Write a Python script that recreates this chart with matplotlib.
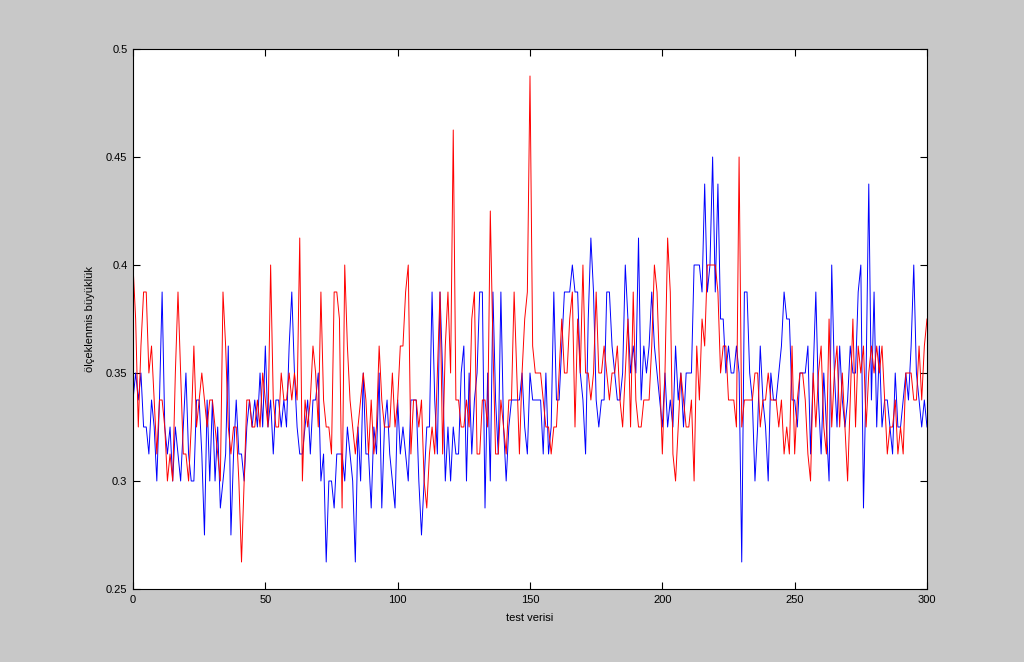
import numpy as np
import matplotlib.pyplot as plt
from matplotlib.ticker import FuncFormatter

plt.rcParams['font.family'] = ['Liberation Sans', 'DejaVu Sans']

# kirmizi seri (test verisi 0..300)
red = [0.4, 0.375, 0.325, 0.3625, 0.3875, 0.3875, 0.35, 0.3625, 0.3375, 0.3125,
       0.3375, 0.3375, 0.325, 0.3, 0.3125, 0.3, 0.35, 0.3875, 0.35, 0.3125,
       0.3125, 0.3, 0.325, 0.3625, 0.325, 0.3375, 0.35, 0.3375, 0.325, 0.3375,
       0.3375, 0.325, 0.3125, 0.3, 0.3875, 0.3625, 0.325, 0.3125, 0.325, 0.325,
       0.3, 0.2625, 0.3, 0.3375, 0.3375, 0.325, 0.325, 0.3375, 0.325, 0.35,
       0.3375, 0.325, 0.4, 0.3375, 0.325, 0.325, 0.35, 0.3375, 0.3375, 0.35,
       0.3375, 0.35, 0.3375, 0.4125, 0.3, 0.3375, 0.325, 0.3375, 0.3625, 0.35,
       0.325, 0.3875, 0.3375, 0.325, 0.325, 0.3125, 0.3875, 0.3875, 0.375, 0.2875,
       0.4, 0.3625, 0.3375, 0.325, 0.3125, 0.325, 0.3375, 0.35, 0.3375, 0.3125,
       0.3375, 0.3125, 0.325, 0.3625, 0.3375, 0.325, 0.325, 0.325, 0.35, 0.325,
       0.3375, 0.3625, 0.3625, 0.3875, 0.4, 0.3125, 0.3375, 0.3375, 0.325, 0.3375,
       0.3, 0.2875, 0.3125, 0.325, 0.3125, 0.35, 0.3875, 0.3125, 0.3625, 0.3875,
       0.35, 0.4625, 0.3375, 0.3375, 0.325, 0.325, 0.3375, 0.325, 0.375, 0.3875,
       0.3125, 0.3125, 0.3375, 0.3375, 0.325, 0.425, 0.3625, 0.3125, 0.3125, 0.3375,
       0.325, 0.3125, 0.3375, 0.3375, 0.3875, 0.35, 0.3125, 0.35, 0.375, 0.3875,
       0.4875, 0.3625, 0.35, 0.35, 0.35, 0.3375, 0.325, 0.325, 0.3125, 0.325,
       0.325, 0.35, 0.375, 0.35, 0.35, 0.375, 0.3875, 0.325, 0.375, 0.35,
       0.4, 0.35, 0.35, 0.3375, 0.35, 0.3875, 0.35, 0.35, 0.3625, 0.35,
       0.3375, 0.35, 0.35, 0.3625, 0.3375, 0.325, 0.35, 0.375, 0.325, 0.3875,
       0.3375, 0.325, 0.325, 0.3375, 0.3375, 0.3375, 0.3625, 0.4, 0.3875, 0.35,
       0.3125, 0.35, 0.4125, 0.3875, 0.3125, 0.3, 0.325, 0.35, 0.3375, 0.325,
       0.325, 0.3375, 0.3, 0.3625, 0.3375, 0.375, 0.3625, 0.4, 0.4, 0.4,
       0.4, 0.3875, 0.35, 0.3625, 0.3625, 0.3375, 0.3375, 0.3375, 0.325, 0.45,
       0.325, 0.3375, 0.3375, 0.3375, 0.3375, 0.35, 0.35, 0.325, 0.3375, 0.3375,
       0.35, 0.3375, 0.3375, 0.3375, 0.325, 0.3375, 0.3125, 0.325, 0.3125, 0.3625,
       0.3125, 0.3375, 0.35, 0.35, 0.3375, 0.3125, 0.3, 0.35, 0.325, 0.35,
       0.3625, 0.325, 0.3125, 0.375, 0.325, 0.35, 0.3625, 0.325, 0.35, 0.325,
       0.3, 0.3375, 0.375, 0.325, 0.3625, 0.35, 0.3625, 0.325, 0.35, 0.3625,
       0.35, 0.3625, 0.35, 0.3625, 0.3375, 0.3125, 0.325, 0.325, 0.3375, 0.3125,
       0.325, 0.3125, 0.35, 0.35, 0.35, 0.3375, 0.3375, 0.3625, 0.3375, 0.3625,
       0.375]

# mavi seri
blue = [0.3375, 0.35, 0.3375, 0.35, 0.325, 0.325, 0.3125, 0.3375, 0.325, 0.3,
        0.3375, 0.3875, 0.325, 0.3125, 0.325, 0.3, 0.325, 0.3125, 0.3, 0.325,
        0.35, 0.3125, 0.3, 0.3, 0.3375, 0.3375, 0.3125, 0.275, 0.3375, 0.3,
        0.3375, 0.3, 0.325, 0.2875, 0.3, 0.3125, 0.3625, 0.275, 0.3125, 0.3375,
        0.3125, 0.3125, 0.3, 0.325, 0.3375, 0.325, 0.3375, 0.325, 0.35, 0.325,
        0.3625, 0.325, 0.3375, 0.3125, 0.3375, 0.3375, 0.325, 0.3375, 0.325, 0.3625,
        0.3875, 0.35, 0.325, 0.3125, 0.3125, 0.325, 0.3375, 0.3125, 0.3375, 0.3375,
        0.35, 0.3, 0.3125, 0.2625, 0.3, 0.3, 0.2875, 0.3125, 0.3125, 0.3125,
        0.3, 0.325, 0.3125, 0.3, 0.2625, 0.325, 0.3, 0.35, 0.3125, 0.3125,
        0.2875, 0.325, 0.3125, 0.35, 0.2875, 0.325, 0.3375, 0.3125, 0.3, 0.2875,
        0.3375, 0.3125, 0.325, 0.3125, 0.3, 0.3375, 0.3375, 0.3375, 0.3, 0.275,
        0.3, 0.325, 0.325, 0.3875, 0.3375, 0.3125, 0.3875, 0.35, 0.3, 0.325,
        0.3, 0.325, 0.3125, 0.3125, 0.35, 0.3625, 0.3, 0.35, 0.3125, 0.3375,
        0.35, 0.3875, 0.3875, 0.2875, 0.35, 0.3, 0.3875, 0.3375, 0.3125, 0.3875,
        0.325, 0.3, 0.325, 0.3375, 0.3375, 0.3375, 0.3375, 0.35, 0.325, 0.3125,
        0.35, 0.3375, 0.3375, 0.3375, 0.3375, 0.3125, 0.35, 0.3125, 0.325, 0.3875,
        0.3375, 0.3375, 0.3625, 0.3875, 0.3875, 0.3875, 0.4, 0.3875, 0.3875, 0.35,
        0.3375, 0.3125, 0.375, 0.4125, 0.3875, 0.3375, 0.325, 0.3375, 0.3375, 0.3875,
        0.3875, 0.3625, 0.35, 0.3375, 0.3375, 0.35, 0.4, 0.375, 0.35, 0.3625,
        0.35, 0.4125, 0.3375, 0.3625, 0.35, 0.3625, 0.3875, 0.3625, 0.35, 0.3375,
        0.325, 0.35, 0.325, 0.3375, 0.325, 0.3625, 0.3375, 0.35, 0.325, 0.35,
        0.35, 0.35, 0.4, 0.4, 0.4, 0.3875, 0.4375, 0.3875, 0.4, 0.45,
        0.3875, 0.4375, 0.375, 0.375, 0.35, 0.3625, 0.35, 0.35, 0.3625, 0.35,
        0.2625, 0.3875, 0.3875, 0.35, 0.3375, 0.3, 0.325, 0.3625, 0.3375, 0.325,
        0.3, 0.35, 0.3375, 0.3375, 0.35, 0.3625, 0.3875, 0.375, 0.375, 0.3375,
        0.3375, 0.325, 0.35, 0.35, 0.35, 0.3625, 0.3125, 0.35, 0.3875, 0.3375,
        0.3125, 0.35, 0.325, 0.3, 0.4, 0.35, 0.325, 0.3625, 0.3375, 0.325,
        0.3375, 0.3625, 0.35, 0.35, 0.3875, 0.4, 0.2875, 0.35, 0.4375, 0.3375,
        0.3875, 0.325, 0.3625, 0.325, 0.3375, 0.3375, 0.325, 0.3125, 0.35, 0.325,
        0.325, 0.3375, 0.35, 0.3375, 0.3625, 0.4, 0.35, 0.3375, 0.325, 0.3375,
        0.325]

x = np.arange(len(red))

fig = plt.figure(figsize=(10.24, 6.62), dpi=100, facecolor='#c8c8c8')
ax = fig.add_axes([133/1024, 1 - 589/662, 794/1024, 540/662])

ax.plot(x, blue, color='#0000ff', linewidth=0.7)
ax.plot(x, red, color='#ff0000', linewidth=0.7)

ax.set_xlim(0, 300)
ax.set_ylim(0.25, 0.5)
ax.set_xticks([0, 50, 100, 150, 200, 250, 300])
ax.set_yticks([0.25, 0.3, 0.35, 0.4, 0.45, 0.5])
ax.yaxis.set_major_formatter(FuncFormatter(lambda v, p: '%g' % v))
ax.tick_params(direction='in', top=True, right=True, length=5, width=0.8,
               labelsize=8, pad=4)
for s in ax.spines.values():
    s.set_linewidth(0.8)

ax.set_xlabel('test verisi', fontsize=8, labelpad=6)
ax.set_ylabel('ölçeklenmis büyüklük', fontsize=8, labelpad=8)

fig.savefig('out.png', dpi=100, facecolor=fig.get_facecolor())
